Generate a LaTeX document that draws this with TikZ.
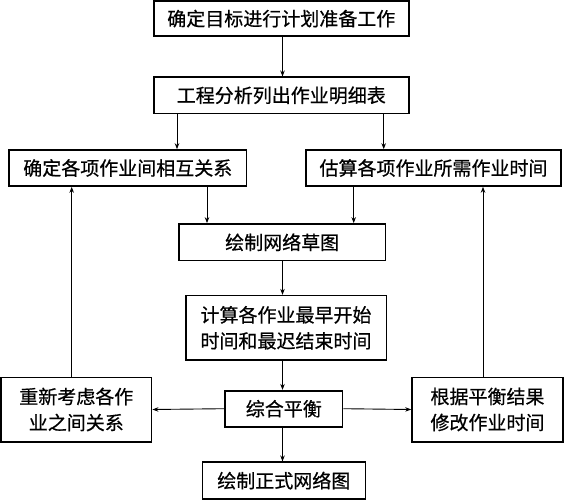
\documentclass[tikz,border=0pt]{standalone}
\usepackage{fontspec}
\newfontfamily\cjk[FakeBold=0.6]{Noto Sans CJK SC}
\usetikzlibrary{arrows.meta}
\begin{document}
\begin{tikzpicture}[x=1pt,y=-1pt,
  box/.style={draw=black,line width=1.6pt,inner sep=0pt,align=center,
    font=\cjk\fontsize{19}{26}\selectfont,text=black},
  conn/.style={line width=0.9pt,-{Stealth[length=6pt,width=4.5pt]}}]
\useasboundingbox (0,0) rectangle (564,500);
\fill[white] (0,0) rectangle (564,500);
\node[box,minimum width=255pt,minimum height=35pt] (b1) at (281.3,18.6) {确定目标进行计划准备工作};
\node[box,minimum width=255pt,minimum height=36pt] (b2) at (281.3,95.3) {工程分析列出作业明细表};
\node[box,minimum width=237.7pt,minimum height=36pt] (b3) at (127.8,168) {确定各项作业间相互关系};
\node[box,minimum width=255pt,minimum height=36pt] (b4) at (433.5,168) {估算各项作业所需作业时间};
\node[box,minimum width=206.3pt,minimum height=36.7pt] (b5) at (282.2,242.3) {绘制网络草图};
\node[box,minimum width=200.6pt,minimum height=64.3pt] (b6) at (286,327.8) {计算各作业最早开始\\时间和最迟结束时间};
\node[box,minimum width=150.7pt,minimum height=64.4pt] (b7) at (76.3,409.5) {重新考虑各作\\业之间关系};
\node[box,minimum width=117.7pt,minimum height=36pt] (b8) at (283.8,408.7) {综合平衡};
\node[box,minimum width=163pt,minimum height=36.7pt] (b9) at (283.8,480.6) {绘制正式网络图};
\node[box,minimum width=151pt,minimum height=64.4pt] (b10) at (487.5,409.5) {根据平衡结果\\修改作业时间};
\coordinate (xa) at (177,0);
\coordinate (xb) at (383.7,0);
\coordinate (xc) at (207,0);
\coordinate (xd) at (353.7,0);
\coordinate (xe) at (71.7,0);
\coordinate (xf) at (483,0);
\coordinate (xm) at (282.5,0);
\draw[conn] (b1.south -| xm) -- (b2.north -| xm);
\draw[conn] (b2.south -| xa) -- (b3.north -| xa);
\draw[conn] (b2.south -| xb) -- (b4.north -| xb);
\draw[conn] (b3.south -| xc) -- (b5.north -| xc);
\draw[conn] (b4.south -| xd) -- (b5.north -| xd);
\draw[conn] (b5.south -| xm) -- (b6.north -| xm);
\draw[conn] (b6.south -| xm) -- (b8.north -| xm);
\draw[conn] (b8.south -| xm) -- (b9.north -| xm);
\draw[conn] (b8.west) -- (b7.east);
\draw[conn] (b8.east) -- (b10.west);
\draw[conn] (b7.north -| xe) -- (b3.south -| xe);
\draw[conn] (b10.north -| xf) -- (b4.south -| xf);
\end{tikzpicture}
\end{document}
